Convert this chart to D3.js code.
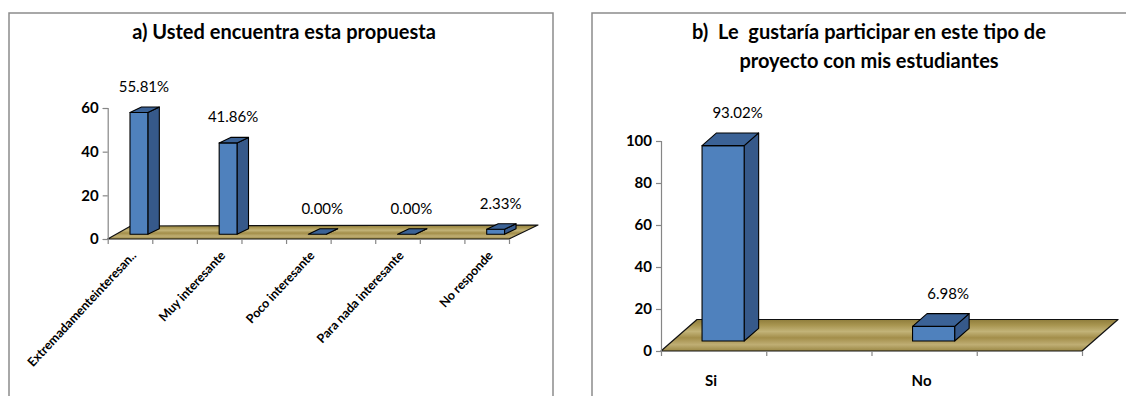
<!DOCTYPE html>
<html>
<head>
<meta charset="utf-8">
<script src="https://cdn.jsdelivr.net/npm/d3@7"></script>
<style>
  html, body { margin: 0; padding: 0; background: #fff; }
  svg { display: block; }
  text { font-family: Lato, "Open Sans", sans-serif; fill: #000; white-space: pre; }
</style>
</head>
<body>
<svg id="chart" width="1126" height="396"></svg>
<script>
// ---- data ----
const titleA = ["a) Usted encuentra esta propuesta"];
const categoriesA = ["Extremadamenteinteresan..", "Muy interesante", "Poco interesante", "Para nada interesante", "No responde"];
const valuesA = [55.81, 41.86, 0.00, 0.00, 2.33];
const yTicksA = [0, 20, 40, 60];

const titleB = ["b)  Le  gustaría participar en este tipo de", "proyecto con mis estudiantes"];
const categoriesB = ["Si", "No"];
const valuesB = [93.02, 6.98];
const yTicksB = [0, 20, 40, 60, 80, 100];

const svg = d3.select("#chart");
const defs = svg.append("defs");

// olive floor with soft horizontal bands
const fg = defs.append("linearGradient").attr("id", "floorGrad")
  .attr("x1", 0).attr("y1", 0).attr("x2", 0).attr("y2", 1);
[[0, "#8f7d3c"], [0.18, "#a89550"], [0.38, "#c2b378"], [0.58, "#a38e4a"], [0.8, "#bfae74"], [1, "#9a8744"]]
  .forEach(([o, c]) => fg.append("stop").attr("offset", o).attr("stop-color", c));

function drawChart(cfg, title, cats, vals, yTicks) {
  const g = svg.append("g");

  // frame
  g.append("path")
    .attr("d", `M${cfg.frame.x0},${cfg.frame.bottom} V${cfg.frame.top} H${cfg.frame.x1}` + (cfg.frame.rightEdge ? ` V${cfg.frame.bottom}` : ""))
    .attr("fill", "none").attr("stroke", "#8c8c8c").attr("stroke-width", 1.5);

  // title lines
  title.forEach((t, i) => {
    g.append("text")
      .attr("x", cfg.titleX).attr("y", cfg.titleY + i * cfg.titleGap)
      .attr("text-anchor", "middle")
      .attr("xml:space", "preserve")
      .attr("font-size", cfg.titleSize).attr("font-weight", 700)
      .text(t);
  });

  const x = d3.scaleLinear().domain([0, cfg.xSpan]).range(cfg.xRange);
  const y = d3.scaleLinear().domain([0, d3.max(yTicks)]).range(cfg.yRange);
  const y0 = y(0);

  // floor plane
  const fl = [x(0), y0], fr = [x(cfg.xSpan), y0];
  const floorPts = [fl, fr,
    [fr[0] + cfg.floorR[0], fr[1] + cfg.floorR[1]],
    [fl[0] + cfg.floorL[0], fl[1] + cfg.floorL[1]]];
  g.append("polygon")
    .attr("points", floorPts.map(p => p.join(",")).join(" "))
    .attr("fill", "url(#floorGrad)").attr("stroke", "#111").attr("stroke-width", 1.2)
    .attr("stroke-linejoin", "round");

  // y axis
  const yAxis = d3.axisLeft(y).tickValues(yTicks).tickSize(5).tickPadding(4);
  const ya = g.append("g").attr("transform", `translate(${x(0)},0)`).call(yAxis);
  ya.select(".domain").attr("stroke", "#868686").attr("stroke-width", 1.2);
  ya.selectAll(".tick line").attr("stroke", "#868686").attr("stroke-width", 1.2);
  ya.selectAll(".tick text").attr("font-family", "Lato, sans-serif")
    .attr("font-size", cfg.tickSize).attr("font-weight", 700).attr("fill", "#000");

  // x axis tick marks along the front edge of the floor
  const xAxis = d3.axisBottom(x).tickValues(d3.range(0, cfg.xSpan + 1)).tickSize(5).tickFormat("");
  const xa = g.append("g").attr("transform", `translate(0,${y0})`).call(xAxis);
  xa.select(".domain").remove();
  xa.selectAll(".tick line").attr("stroke", "#868686").attr("stroke-width", 1.2);

  // 3D columns
  const [dx, dy] = cfg.barDepth;
  cats.forEach((c, i) => {
    const v = vals[i];
    const xl = x(2 * i + cfg.barOffset), xr = x(2 * i + cfg.barOffset + cfg.barWidth);
    const yb = y0 - cfg.barLift, yt = y(v) - cfg.barLift;
    const bg = g.append("g").attr("stroke", "#000").attr("stroke-width", 1.1).attr("stroke-linejoin", "round");
    // side
    bg.append("polygon")
      .attr("points", [[xr, yt], [xr + dx, yt + dy], [xr + dx, yb + dy], [xr, yb]].map(p => p.join(",")).join(" "))
      .attr("fill", "#36598a");
    // front
    bg.append("rect").attr("x", xl).attr("y", yt).attr("width", xr - xl).attr("height", yb - yt)
      .attr("fill", "#4f81bd");
    // top
    bg.append("polygon")
      .attr("points", [[xl, yt], [xl + dx, yt + dy], [xr + dx, yt + dy], [xr, yt]].map(p => p.join(",")).join(" "))
      .attr("fill", "#3b6296");

    // value label
    g.append("text")
      .attr("x", (xl + xr) / 2 + cfg.labelDx)
      .attr("y", yt + dy - cfg.labelGap)
      .attr("text-anchor", "middle")
      .attr("font-size", cfg.valueSize)
      .text(v.toFixed(2) + "%");

    // category label
    const cx = (xl + xr) / 2 + cfg.catDx;
    const cy = y0 + cfg.catDy;
    const t = g.append("text")
      .attr("font-size", cfg.catSize).attr("font-weight", 700)
      .text(c);
    if (cfg.catRotate) {
      t.attr("text-anchor", "end").attr("transform", `translate(${cx},${cy}) rotate(${cfg.catRotate})`);
    } else {
      t.attr("text-anchor", "middle").attr("x", cx).attr("y", cy);
    }
  });
}

drawChart({
  frame: { x0: 9, x1: 553, top: 13, bottom: 400, rightEdge: true },
  titleX: 284, titleY: 39, titleGap: 29, titleSize: 20,
  xSpan: 9, xRange: [107.7, 509],
  yRange: [239, 108],
  floorL: [23, -13], floorR: [29, -14],
  barOffset: 0.5, barWidth: 0.4, barLift: 4.7, barDepth: [11.5, -5.5],
  labelDx: 5, labelGap: 15, valueSize: 15,
  tickSize: 15,
  catDx: -2, catDy: 17, catRotate: -47, catSize: 12.5
}, titleA, categoriesA, valuesA, yTicksA);

drawChart({
  frame: { x0: 592, x1: 1130, top: 13, bottom: 400, rightEdge: false },
  titleX: 869, titleY: 39, titleGap: 29, titleSize: 20,
  xSpan: 4, xRange: [661, 1082],
  yRange: [351, 141],
  floorL: [36, -31.5], floorR: [36, -31.5],
  barOffset: 0.39, barWidth: 0.4, barLift: 10, barDepth: [14.5, -12.7],
  labelDx: 14.5, labelGap: 15, valueSize: 15,
  tickSize: 15,
  catDx: -12, catDy: 35, catRotate: 0, catSize: 15
}, titleB, categoriesB, valuesB, yTicksB);
</script>
</body>
</html>
